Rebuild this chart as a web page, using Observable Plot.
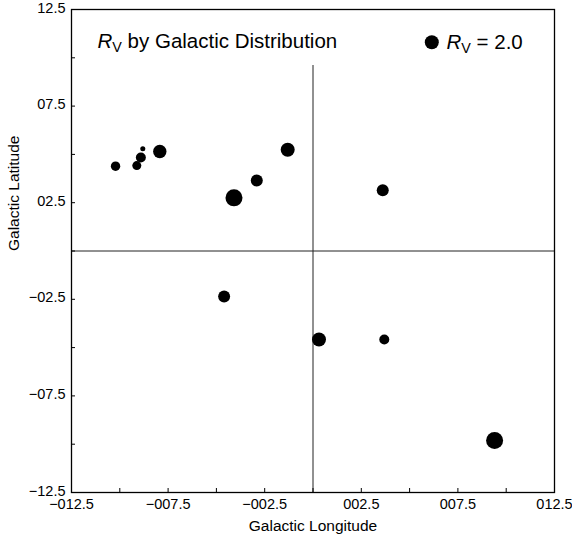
<!DOCTYPE html>
<html>
<head>
<meta charset="utf-8">
<script src="https://cdn.jsdelivr.net/npm/d3@7"></script>
<script src="https://cdn.jsdelivr.net/npm/@observablehq/plot@0.6"></script>
<style>
  html, body { margin: 0; padding: 0; background: #fff; }
  svg { font-family: "Liberation Sans", Arial, Helvetica, sans-serif; }
</style>
</head>
<body>
<div id="chart"></div>
<script>
// Data
const longitude = [-10.22, -9.12, -8.91, -8.81, -7.93, -4.09, -2.91, -1.31, 3.61, -4.60, 0.31, 3.69, 9.40];
const latitude  = [4.39, 4.42, 4.84, 5.29, 5.15, 2.75, 3.65, 5.24, 3.15, -2.35, -4.58, -4.58, -9.81];
const rv        = [0.90, 0.83, 1.02, 0.26, 1.83, 2.95, 1.47, 2.00, 1.47, 1.47, 2.00, 1.02, 2.95];

const xTickValues = [-12.5, -7.5, -2.5, 2.5, 7.5, 12.5];
const xTickLabels = ["\u2212012.5", "\u2212007.5", "\u2212002.5", "002.5", "007.5", "012.5"];
const yTickValues = [-12.5, -7.5, -2.5, 2.5, 7.5, 12.5];
const yTickLabels = ["\u221212.5", "\u221207.5", "\u221202.5", "02.5", "07.5", "12.5"];
const minorTicks = [-12.5, -10, -7.5, -5, -2.5, 0, 2.5, 5, 7.5, 10, 12.5];

const legendRv = [2.0];
const legendLabel = "RV = 2.0";
const titleText = "RV by Galactic Distribution";
const xTitle = "Galactic Longitude";
const yTitle = "Galactic Latitude";
const verticalRuleTop = 9.6;

const points = longitude.map((x, i) => ({x, y: latitude[i], rv: rv[i]}));

const xFmt = d => xTickLabels[xTickValues.indexOf(d)] ?? "";
const yFmt = d => yTickLabels[yTickValues.indexOf(d)] ?? "";

const chart = Plot.plot({
  width: 572,
  height: 538,
  marginLeft: 71,
  marginRight: 18,
  marginTop: 9,
  marginBottom: 46,
  style: {fontFamily: "Liberation Sans, Arial, sans-serif", background: "#fff", color: "#000"},
  x: {domain: [-12.5, 12.5]},
  y: {domain: [-12.5, 12.5]},
  r: {type: "sqrt", domain: [0, 2], range: [0, 7]},
  marks: [
    Plot.ruleY([0], {stroke: "#222", strokeWidth: 1}),
    Plot.ruleX([0], {y1: -12.5, y2: verticalRuleTop, stroke: "#222", strokeWidth: 1}),
    Plot.frame({stroke: "#000", strokeWidth: 1.3}),
    Plot.axisX(minorTicks, {tickSize: -4, tickFormat: () => "", strokeWidth: 1, label: null}),
    Plot.axisY(minorTicks, {tickSize: -4, tickFormat: () => "", strokeWidth: 1, label: null}),
    Plot.axisX(xTickValues, {tickSize: 0, tickPadding: 6, tickFormat: xFmt, fontSize: 14.5, label: null}),
    Plot.axisY(yTickValues, {tickSize: 0, tickPadding: 6, tickFormat: yFmt, fontSize: 14.5, dy: -1.5, label: null}),
    Plot.dot(points, {x: "x", y: "y", r: "rv", fill: "#000", stroke: null}),
    Plot.dot(legendRv, {frameAnchor: "top-right", r: d => d, dx: -122.7, dy: 32.7, fill: "#000", stroke: null}),
    Plot.text([legendLabel], {frameAnchor: "top-right", textAnchor: "start", lineAnchor: "middle", dx: -108, dy: 32.7, fontSize: 20.5, fill: "#000"}),
    Plot.text([titleText], {frameAnchor: "top-left", textAnchor: "start", lineAnchor: "middle", dx: 26, dy: 31.5, fontSize: 20.5, fill: "#000"}),
    Plot.text([xTitle], {frameAnchor: "bottom", lineAnchor: "middle", dy: 34, fontSize: 15.5, fill: "#000"}),
    Plot.text([yTitle], {frameAnchor: "left", rotate: -90, lineAnchor: "middle", dx: -57, fontSize: 15.5, fill: "#000"})
  ]
});

// Render "RV" as italic R with subscript V
d3.select(chart).selectAll("text").each(function() {
  const t = this.textContent;
  if (t === titleText || t === legendLabel) {
    const rest = t.slice(2);
    const sel = d3.select(this);
    sel.text(null);
    sel.append("tspan").attr("font-style", "italic").text("R");
    sel.append("tspan").attr("font-size", "0.7em").attr("dy", "0.28em").text("V");
    sel.append("tspan").attr("dy", "-0.196em").text(rest);
  }
});

document.getElementById("chart").appendChild(chart);
</script>
</body>
</html>
